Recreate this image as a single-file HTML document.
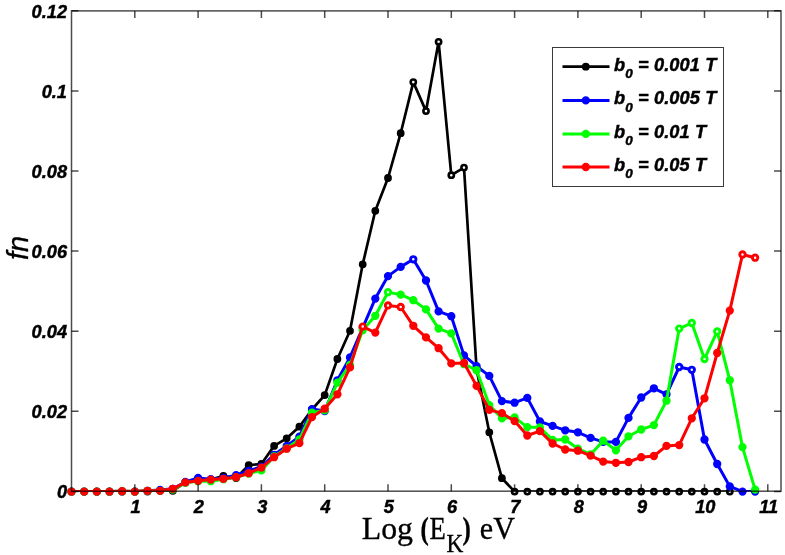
<!DOCTYPE html>
<html><head><meta charset="utf-8"><title>plot</title>
<style>
html,body{margin:0;padding:0;background:#fff;}
body{width:785px;height:555px;overflow:hidden;position:relative;}
text{fill:#000;}
.tk{font-family:"Liberation Sans",sans-serif;font-weight:bold;font-style:italic;font-size:18.2px;stroke:#000;stroke-width:0.45px;}
.lg{font-family:"Liberation Sans",sans-serif;font-weight:bold;font-style:italic;font-size:18.2px;letter-spacing:0.12px;stroke:#000;stroke-width:0.45px;}
.yl{font-family:"Liberation Sans",sans-serif;font-style:italic;font-size:29px;stroke:#000;stroke-width:0.3px;}
.xl{font-family:"Liberation Serif",serif;font-size:31px;stroke:#000;stroke-width:0.35px;}
</style></head><body>
<svg width="785" height="555" viewBox="0 0 785 555" style="position:absolute;left:0;top:0">
<rect width="785" height="555" fill="#fff"/>
<clipPath id="c"><rect x="71.5" y="10.9" width="709.5" height="480.7"/></clipPath>
<g stroke="#000" fill="none">
<polyline points="71.5,491.6 84.2,491.6 96.8,491.6 109.5,491.6 122.1,491.6 134.8,491.6 147.5,491.6 160.1,490.4 172.8,490.8 185.4,482.4 198.1,479.2 210.8,479.6 223.4,476.0 236.1,478.0 248.7,465.2 261.4,464.0 274.1,445.9 286.7,438.3 299.4,426.7 312.0,409.5 324.7,395.1 337.4,359.0 350.0,330.8 362.7,264.3 375.3,210.8 388.0,178.0 400.7,133.2 413.3,82.1 426.0,111.1 438.6,41.8 451.3,175.2 464.0,167.6 476.6,369.4 489.3,432.3 501.9,478.2 514.6,491.6 527.3,491.6 539.9,491.6 552.6,491.6 565.2,491.6 577.9,491.6 590.6,491.6 603.2,491.6 615.9,491.6 628.5,491.6 641.2,491.6 653.9,491.6 666.5,491.6 679.2,491.6 691.8,491.6 704.5,491.6 717.2,491.6 729.8,491.6" stroke-width="2.7" stroke-linejoin="round" clip-path="url(#c)"/>
<g stroke-width="2.6">
<circle cx="71.5" cy="491.6" r="2.6"/>
<circle cx="84.2" cy="491.6" r="2.6"/>
<circle cx="96.8" cy="491.6" r="2.6"/>
<circle cx="109.5" cy="491.6" r="2.6"/>
<circle cx="122.1" cy="491.6" r="2.6"/>
<circle cx="134.8" cy="491.6" r="2.6"/>
<circle cx="147.5" cy="491.6" r="2.6"/>
<circle cx="160.1" cy="490.4" r="2.6"/>
<circle cx="172.8" cy="490.8" r="2.6"/>
<circle cx="185.4" cy="482.4" r="2.6" fill="#000"/>
<circle cx="198.1" cy="479.2" r="2.6" fill="#000"/>
<circle cx="210.8" cy="479.6" r="2.6" fill="#000"/>
<circle cx="223.4" cy="476.0" r="2.6" fill="#000"/>
<circle cx="236.1" cy="478.0" r="2.6" fill="#000"/>
<circle cx="248.7" cy="465.2" r="2.6" fill="#000"/>
<circle cx="261.4" cy="464.0" r="2.6" fill="#000"/>
<circle cx="274.1" cy="445.9" r="2.6" fill="#000"/>
<circle cx="286.7" cy="438.3" r="2.6" fill="#000"/>
<circle cx="299.4" cy="426.7" r="2.6" fill="#000"/>
<circle cx="312.0" cy="409.5" r="2.6" fill="#000"/>
<circle cx="324.7" cy="395.1" r="2.6" fill="#000"/>
<circle cx="337.4" cy="359.0" r="2.6" fill="#000"/>
<circle cx="350.0" cy="330.8" r="2.6" fill="#000"/>
<circle cx="362.7" cy="264.3" r="2.6" fill="#000"/>
<circle cx="375.3" cy="210.8" r="2.6" fill="#000"/>
<circle cx="388.0" cy="178.0" r="2.6" fill="#000"/>
<circle cx="400.7" cy="133.2" r="2.6" fill="#000"/>
<circle cx="413.3" cy="82.1" r="2.6" fill="#fff"/>
<circle cx="426.0" cy="111.1" r="2.6" fill="#fff"/>
<circle cx="438.6" cy="41.8" r="2.6" fill="#fff"/>
<circle cx="451.3" cy="175.2" r="2.6" fill="#fff"/>
<circle cx="464.0" cy="167.6" r="2.6" fill="#fff"/>
<circle cx="476.6" cy="369.4" r="2.6" fill="#000"/>
<circle cx="489.3" cy="432.3" r="2.6" fill="#000"/>
<circle cx="501.9" cy="478.2" r="2.6" fill="#000"/>
<circle cx="514.6" cy="491.6" r="2.6"/>
<circle cx="527.3" cy="491.6" r="2.6"/>
<circle cx="539.9" cy="491.6" r="2.6"/>
<circle cx="552.6" cy="491.6" r="2.6"/>
<circle cx="565.2" cy="491.6" r="2.6"/>
<circle cx="577.9" cy="491.6" r="2.6"/>
<circle cx="590.6" cy="491.6" r="2.6"/>
<circle cx="603.2" cy="491.6" r="2.6"/>
<circle cx="615.9" cy="491.6" r="2.6"/>
<circle cx="628.5" cy="491.6" r="2.6"/>
<circle cx="641.2" cy="491.6" r="2.6"/>
<circle cx="653.9" cy="491.6" r="2.6"/>
<circle cx="666.5" cy="491.6" r="2.6"/>
<circle cx="679.2" cy="491.6" r="2.6"/>
<circle cx="691.8" cy="491.6" r="2.6"/>
<circle cx="704.5" cy="491.6" r="2.6"/>
<circle cx="717.2" cy="491.6" r="2.6"/>
<circle cx="729.8" cy="491.6" r="2.6"/>
</g></g>
<g stroke="#0000ff" fill="none">
<polyline points="71.5,491.6 84.2,491.6 96.8,491.6 109.5,491.6 122.1,491.2 134.8,491.6 147.5,490.8 160.1,490.0 172.8,488.8 185.4,482.0 198.1,478.0 210.8,479.2 223.4,478.0 236.1,475.2 248.7,470.8 261.4,466.8 274.1,454.8 286.7,445.9 299.4,436.7 312.0,409.1 324.7,411.1 337.4,380.3 350.0,357.4 362.7,327.8 375.3,298.6 388.0,276.1 400.7,266.9 413.3,259.3 426.0,280.5 438.6,311.4 451.3,316.2 464.0,355.4 476.6,366.2 489.3,375.9 501.9,401.1 514.6,402.7 527.3,397.9 539.9,421.5 552.6,425.9 565.2,430.3 577.9,432.3 590.6,437.9 603.2,441.9 615.9,441.9 628.5,417.9 641.2,397.5 653.9,388.3 666.5,394.3 679.2,367.0 691.8,369.8 704.5,439.5 717.2,464.0 729.8,486.4 742.5,491.6 755.1,491.6" stroke-width="3.0" stroke-linejoin="round" clip-path="url(#c)"/>
<g stroke-width="2.9">
<circle cx="71.5" cy="491.6" r="2.7" fill="#0000ff"/>
<circle cx="84.2" cy="491.6" r="2.7" fill="#0000ff"/>
<circle cx="96.8" cy="491.6" r="2.7" fill="#0000ff"/>
<circle cx="109.5" cy="491.6" r="2.7" fill="#0000ff"/>
<circle cx="122.1" cy="491.2" r="2.7" fill="#0000ff"/>
<circle cx="134.8" cy="491.6" r="2.7" fill="#0000ff"/>
<circle cx="147.5" cy="490.8" r="2.7" fill="#0000ff"/>
<circle cx="160.1" cy="490.0" r="2.7" fill="#0000ff"/>
<circle cx="172.8" cy="488.8" r="2.7" fill="#0000ff"/>
<circle cx="185.4" cy="482.0" r="2.7" fill="#0000ff"/>
<circle cx="198.1" cy="478.0" r="2.7" fill="#0000ff"/>
<circle cx="210.8" cy="479.2" r="2.7" fill="#0000ff"/>
<circle cx="223.4" cy="478.0" r="2.7" fill="#0000ff"/>
<circle cx="236.1" cy="475.2" r="2.7" fill="#0000ff"/>
<circle cx="248.7" cy="470.8" r="2.7" fill="#0000ff"/>
<circle cx="261.4" cy="466.8" r="2.7" fill="#0000ff"/>
<circle cx="274.1" cy="454.8" r="2.7" fill="#0000ff"/>
<circle cx="286.7" cy="445.9" r="2.7" fill="#0000ff"/>
<circle cx="299.4" cy="436.7" r="2.7" fill="#0000ff"/>
<circle cx="312.0" cy="409.1" r="2.7" fill="#0000ff"/>
<circle cx="324.7" cy="411.1" r="2.7" fill="#0000ff"/>
<circle cx="337.4" cy="380.3" r="2.7" fill="#0000ff"/>
<circle cx="350.0" cy="357.4" r="2.7" fill="#0000ff"/>
<circle cx="362.7" cy="327.8" r="2.7" fill="#0000ff"/>
<circle cx="375.3" cy="298.6" r="2.7" fill="#0000ff"/>
<circle cx="388.0" cy="276.1" r="2.7" fill="#0000ff"/>
<circle cx="400.7" cy="266.9" r="2.7" fill="#0000ff"/>
<circle cx="413.3" cy="259.3" r="2.7" fill="#fff"/>
<circle cx="426.0" cy="280.5" r="2.7" fill="#0000ff"/>
<circle cx="438.6" cy="311.4" r="2.7" fill="#0000ff"/>
<circle cx="451.3" cy="316.2" r="2.7" fill="#0000ff"/>
<circle cx="464.0" cy="355.4" r="2.7" fill="#0000ff"/>
<circle cx="476.6" cy="366.2" r="2.7" fill="#0000ff"/>
<circle cx="489.3" cy="375.9" r="2.7" fill="#0000ff"/>
<circle cx="501.9" cy="401.1" r="2.7" fill="#0000ff"/>
<circle cx="514.6" cy="402.7" r="2.7" fill="#0000ff"/>
<circle cx="527.3" cy="397.9" r="2.7" fill="#0000ff"/>
<circle cx="539.9" cy="421.5" r="2.7" fill="#0000ff"/>
<circle cx="552.6" cy="425.9" r="2.7" fill="#0000ff"/>
<circle cx="565.2" cy="430.3" r="2.7" fill="#0000ff"/>
<circle cx="577.9" cy="432.3" r="2.7" fill="#0000ff"/>
<circle cx="590.6" cy="437.9" r="2.7" fill="#0000ff"/>
<circle cx="603.2" cy="441.9" r="2.7" fill="#0000ff"/>
<circle cx="615.9" cy="441.9" r="2.7" fill="#0000ff"/>
<circle cx="628.5" cy="417.9" r="2.7" fill="#0000ff"/>
<circle cx="641.2" cy="397.5" r="2.7" fill="#0000ff"/>
<circle cx="653.9" cy="388.3" r="2.7" fill="#0000ff"/>
<circle cx="666.5" cy="394.3" r="2.7" fill="#0000ff"/>
<circle cx="679.2" cy="367.0" r="2.7" fill="#fff"/>
<circle cx="691.8" cy="369.8" r="2.7" fill="#fff"/>
<circle cx="704.5" cy="439.5" r="2.7" fill="#0000ff"/>
<circle cx="717.2" cy="464.0" r="2.7" fill="#0000ff"/>
<circle cx="729.8" cy="486.4" r="2.7" fill="#0000ff"/>
<circle cx="742.5" cy="491.6" r="2.7" fill="#0000ff"/>
<circle cx="755.1" cy="491.6" r="2.7" fill="#0000ff"/>
</g></g>
<g stroke="#00ff00" fill="none">
<polyline points="71.5,491.6 84.2,491.6 96.8,491.6 109.5,491.6 122.1,491.2 134.8,491.6 147.5,490.8 160.1,490.8 172.8,489.6 185.4,482.8 198.1,481.2 210.8,481.2 223.4,479.2 236.1,477.2 248.7,473.6 261.4,470.4 274.1,456.4 286.7,448.3 299.4,439.5 312.0,412.7 324.7,410.3 337.4,382.7 350.0,365.0 362.7,330.2 375.3,315.8 388.0,292.2 400.7,294.6 413.3,300.2 426.0,309.4 438.6,328.6 451.3,333.4 464.0,364.2 476.6,370.2 489.3,405.1 501.9,418.3 514.6,417.5 527.3,427.1 539.9,427.5 552.6,439.9 565.2,439.5 577.9,448.7 590.6,454.4 603.2,440.7 615.9,450.3 628.5,436.3 641.2,429.5 653.9,425.1 666.5,400.7 679.2,328.6 691.8,323.0 704.5,359.0 717.2,331.4 729.8,380.3 742.5,447.1 755.1,489.6" stroke-width="3.0" stroke-linejoin="round" clip-path="url(#c)"/>
<g stroke-width="2.9">
<circle cx="71.5" cy="491.6" r="2.7" fill="#00ff00"/>
<circle cx="84.2" cy="491.6" r="2.7" fill="#00ff00"/>
<circle cx="96.8" cy="491.6" r="2.7" fill="#00ff00"/>
<circle cx="109.5" cy="491.6" r="2.7" fill="#00ff00"/>
<circle cx="122.1" cy="491.2" r="2.7" fill="#00ff00"/>
<circle cx="134.8" cy="491.6" r="2.7" fill="#00ff00"/>
<circle cx="147.5" cy="490.8" r="2.7" fill="#00ff00"/>
<circle cx="160.1" cy="490.8" r="2.7" fill="#00ff00"/>
<circle cx="172.8" cy="489.6" r="2.7" fill="#00ff00"/>
<circle cx="185.4" cy="482.8" r="2.7" fill="#00ff00"/>
<circle cx="198.1" cy="481.2" r="2.7" fill="#00ff00"/>
<circle cx="210.8" cy="481.2" r="2.7" fill="#00ff00"/>
<circle cx="223.4" cy="479.2" r="2.7" fill="#00ff00"/>
<circle cx="236.1" cy="477.2" r="2.7" fill="#00ff00"/>
<circle cx="248.7" cy="473.6" r="2.7" fill="#00ff00"/>
<circle cx="261.4" cy="470.4" r="2.7" fill="#00ff00"/>
<circle cx="274.1" cy="456.4" r="2.7" fill="#00ff00"/>
<circle cx="286.7" cy="448.3" r="2.7" fill="#00ff00"/>
<circle cx="299.4" cy="439.5" r="2.7" fill="#00ff00"/>
<circle cx="312.0" cy="412.7" r="2.7" fill="#00ff00"/>
<circle cx="324.7" cy="410.3" r="2.7" fill="#00ff00"/>
<circle cx="337.4" cy="382.7" r="2.7" fill="#00ff00"/>
<circle cx="350.0" cy="365.0" r="2.7" fill="#00ff00"/>
<circle cx="362.7" cy="330.2" r="2.7" fill="#00ff00"/>
<circle cx="375.3" cy="315.8" r="2.7" fill="#00ff00"/>
<circle cx="388.0" cy="292.2" r="2.7" fill="#fff"/>
<circle cx="400.7" cy="294.6" r="2.7" fill="#00ff00"/>
<circle cx="413.3" cy="300.2" r="2.7" fill="#00ff00"/>
<circle cx="426.0" cy="309.4" r="2.7" fill="#00ff00"/>
<circle cx="438.6" cy="328.6" r="2.7" fill="#00ff00"/>
<circle cx="451.3" cy="333.4" r="2.7" fill="#00ff00"/>
<circle cx="464.0" cy="364.2" r="2.7" fill="#00ff00"/>
<circle cx="476.6" cy="370.2" r="2.7" fill="#00ff00"/>
<circle cx="489.3" cy="405.1" r="2.7" fill="#00ff00"/>
<circle cx="501.9" cy="418.3" r="2.7" fill="#00ff00"/>
<circle cx="514.6" cy="417.5" r="2.7" fill="#00ff00"/>
<circle cx="527.3" cy="427.1" r="2.7" fill="#00ff00"/>
<circle cx="539.9" cy="427.5" r="2.7" fill="#00ff00"/>
<circle cx="552.6" cy="439.9" r="2.7" fill="#00ff00"/>
<circle cx="565.2" cy="439.5" r="2.7" fill="#00ff00"/>
<circle cx="577.9" cy="448.7" r="2.7" fill="#00ff00"/>
<circle cx="590.6" cy="454.4" r="2.7" fill="#00ff00"/>
<circle cx="603.2" cy="440.7" r="2.7" fill="#00ff00"/>
<circle cx="615.9" cy="450.3" r="2.7" fill="#00ff00"/>
<circle cx="628.5" cy="436.3" r="2.7" fill="#00ff00"/>
<circle cx="641.2" cy="429.5" r="2.7" fill="#00ff00"/>
<circle cx="653.9" cy="425.1" r="2.7" fill="#00ff00"/>
<circle cx="666.5" cy="400.7" r="2.7" fill="#00ff00"/>
<circle cx="679.2" cy="328.6" r="2.7" fill="#fff"/>
<circle cx="691.8" cy="323.0" r="2.7" fill="#fff"/>
<circle cx="704.5" cy="359.0" r="2.7" fill="#fff"/>
<circle cx="717.2" cy="331.4" r="2.7" fill="#fff"/>
<circle cx="729.8" cy="380.3" r="2.7" fill="#00ff00"/>
<circle cx="742.5" cy="447.1" r="2.7" fill="#00ff00"/>
<circle cx="755.1" cy="489.6" r="2.7" fill="#00ff00"/>
</g></g>
<g stroke="#ff0000" fill="none">
<polyline points="71.5,491.6 84.2,491.6 96.8,491.6 109.5,491.6 122.1,491.2 134.8,491.6 147.5,490.8 160.1,490.8 172.8,488.8 185.4,482.4 198.1,480.8 210.8,479.6 223.4,478.8 236.1,477.2 248.7,473.2 261.4,467.6 274.1,457.2 286.7,448.7 299.4,443.1 312.0,417.1 324.7,408.7 337.4,394.3 350.0,367.4 362.7,326.6 375.3,332.6 388.0,305.4 400.7,307.0 413.3,325.8 426.0,337.4 438.6,348.2 451.3,363.4 464.0,363.0 476.6,385.9 489.3,409.9 501.9,413.1 514.6,421.1 527.3,435.5 539.9,431.1 552.6,443.5 565.2,449.5 577.9,450.7 590.6,455.6 603.2,461.6 615.9,462.8 628.5,462.0 641.2,457.2 653.9,456.0 666.5,445.9 679.2,445.1 691.8,418.3 704.5,398.3 717.2,353.0 729.8,310.6 742.5,254.5 755.1,257.7" stroke-width="3.0" stroke-linejoin="round" clip-path="url(#c)"/>
<g stroke-width="2.9">
<circle cx="71.5" cy="491.6" r="2.7" fill="#ff0000"/>
<circle cx="84.2" cy="491.6" r="2.7" fill="#ff0000"/>
<circle cx="96.8" cy="491.6" r="2.7" fill="#ff0000"/>
<circle cx="109.5" cy="491.6" r="2.7" fill="#ff0000"/>
<circle cx="122.1" cy="491.2" r="2.7" fill="#ff0000"/>
<circle cx="134.8" cy="491.6" r="2.7" fill="#ff0000"/>
<circle cx="147.5" cy="490.8" r="2.7" fill="#ff0000"/>
<circle cx="160.1" cy="490.8" r="2.7" fill="#ff0000"/>
<circle cx="172.8" cy="488.8" r="2.7" fill="#ff0000"/>
<circle cx="185.4" cy="482.4" r="2.7" fill="#ff0000"/>
<circle cx="198.1" cy="480.8" r="2.7" fill="#ff0000"/>
<circle cx="210.8" cy="479.6" r="2.7" fill="#ff0000"/>
<circle cx="223.4" cy="478.8" r="2.7" fill="#ff0000"/>
<circle cx="236.1" cy="477.2" r="2.7" fill="#ff0000"/>
<circle cx="248.7" cy="473.2" r="2.7" fill="#ff0000"/>
<circle cx="261.4" cy="467.6" r="2.7" fill="#ff0000"/>
<circle cx="274.1" cy="457.2" r="2.7" fill="#ff0000"/>
<circle cx="286.7" cy="448.7" r="2.7" fill="#ff0000"/>
<circle cx="299.4" cy="443.1" r="2.7" fill="#ff0000"/>
<circle cx="312.0" cy="417.1" r="2.7" fill="#ff0000"/>
<circle cx="324.7" cy="408.7" r="2.7" fill="#ff0000"/>
<circle cx="337.4" cy="394.3" r="2.7" fill="#ff0000"/>
<circle cx="350.0" cy="367.4" r="2.7" fill="#ff0000"/>
<circle cx="362.7" cy="326.6" r="2.7" fill="#fff"/>
<circle cx="375.3" cy="332.6" r="2.7" fill="#ff0000"/>
<circle cx="388.0" cy="305.4" r="2.7" fill="#fff"/>
<circle cx="400.7" cy="307.0" r="2.7" fill="#fff"/>
<circle cx="413.3" cy="325.8" r="2.7" fill="#ff0000"/>
<circle cx="426.0" cy="337.4" r="2.7" fill="#ff0000"/>
<circle cx="438.6" cy="348.2" r="2.7" fill="#ff0000"/>
<circle cx="451.3" cy="363.4" r="2.7" fill="#ff0000"/>
<circle cx="464.0" cy="363.0" r="2.7" fill="#ff0000"/>
<circle cx="476.6" cy="385.9" r="2.7" fill="#ff0000"/>
<circle cx="489.3" cy="409.9" r="2.7" fill="#ff0000"/>
<circle cx="501.9" cy="413.1" r="2.7" fill="#ff0000"/>
<circle cx="514.6" cy="421.1" r="2.7" fill="#ff0000"/>
<circle cx="527.3" cy="435.5" r="2.7" fill="#ff0000"/>
<circle cx="539.9" cy="431.1" r="2.7" fill="#ff0000"/>
<circle cx="552.6" cy="443.5" r="2.7" fill="#ff0000"/>
<circle cx="565.2" cy="449.5" r="2.7" fill="#ff0000"/>
<circle cx="577.9" cy="450.7" r="2.7" fill="#ff0000"/>
<circle cx="590.6" cy="455.6" r="2.7" fill="#ff0000"/>
<circle cx="603.2" cy="461.6" r="2.7" fill="#ff0000"/>
<circle cx="615.9" cy="462.8" r="2.7" fill="#ff0000"/>
<circle cx="628.5" cy="462.0" r="2.7" fill="#ff0000"/>
<circle cx="641.2" cy="457.2" r="2.7" fill="#ff0000"/>
<circle cx="653.9" cy="456.0" r="2.7" fill="#ff0000"/>
<circle cx="666.5" cy="445.9" r="2.7" fill="#ff0000"/>
<circle cx="679.2" cy="445.1" r="2.7" fill="#ff0000"/>
<circle cx="691.8" cy="418.3" r="2.7" fill="#ff0000"/>
<circle cx="704.5" cy="398.3" r="2.7" fill="#ff0000"/>
<circle cx="717.2" cy="353.0" r="2.7" fill="#ff0000"/>
<circle cx="729.8" cy="310.6" r="2.7" fill="#ff0000"/>
<circle cx="742.5" cy="254.5" r="2.7" fill="#fff"/>
<circle cx="755.1" cy="257.7" r="2.7" fill="#fff"/>
</g></g>
<rect x="71.5" y="10.9" width="709.5" height="480.3" fill="none" stroke="#000" stroke-opacity="0.7" stroke-width="1.5"/>
<path d="M134.8 491.2v-7M134.8 10.9v7M198.1 491.2v-7M198.1 10.9v7M261.4 491.2v-7M261.4 10.9v7M324.7 491.2v-7M324.7 10.9v7M388.0 491.2v-7M388.0 10.9v7M451.3 491.2v-7M451.3 10.9v7M514.6 491.2v-7M514.6 10.9v7M577.9 491.2v-7M577.9 10.9v7M641.2 491.2v-7M641.2 10.9v7M704.5 491.2v-7M704.5 10.9v7M767.8 491.2v-7M767.8 10.9v7M71.5 491.4h7M781.0 491.4h-7M71.5 411.3h7M781.0 411.3h-7M71.5 331.2h7M781.0 331.2h-7M71.5 251.1h7M781.0 251.1h-7M71.5 171.0h7M781.0 171.0h-7M71.5 90.9h7M781.0 90.9h-7M71.5 10.8h7M781.0 10.8h-7" stroke="#000" stroke-opacity="0.7" stroke-width="1.5" fill="none"/>
<rect x="552.5" y="47.5" width="171.0" height="139.0" fill="#fff" stroke="#3a3a3a" stroke-width="1"/>
<path d="M562.5 66.7H609.5" stroke="#000" stroke-width="2.7"/>
<circle cx="585.8" cy="66.7" r="2.6" stroke="#000" stroke-width="2.6" fill="#000"/>
<text x="614" y="70.5" class="lg">b<tspan dy="7.6" style="font-size:13.5px">0</tspan><tspan dy="-7.6"> = 0.001 T</tspan></text>
<path d="M562.5 100.4H609.5" stroke="#0000ff" stroke-width="3.0"/>
<circle cx="585.8" cy="100.4" r="2.7" stroke="#0000ff" stroke-width="2.9" fill="#0000ff"/>
<text x="614" y="104.2" class="lg">b<tspan dy="7.6" style="font-size:13.5px">0</tspan><tspan dy="-7.6"> = 0.005 T</tspan></text>
<path d="M562.5 133.9H609.5" stroke="#00ff00" stroke-width="3.0"/>
<circle cx="585.8" cy="133.9" r="2.7" stroke="#00ff00" stroke-width="2.9" fill="#00ff00"/>
<text x="614" y="137.7" class="lg">b<tspan dy="7.6" style="font-size:13.5px">0</tspan><tspan dy="-7.6"> = 0.01 T</tspan></text>
<path d="M562.5 167.0H609.5" stroke="#ff0000" stroke-width="3.0"/>
<circle cx="585.8" cy="167.0" r="2.7" stroke="#ff0000" stroke-width="2.9" fill="#ff0000"/>
<text x="614" y="170.8" class="lg">b<tspan dy="7.6" style="font-size:13.5px">0</tspan><tspan dy="-7.6"> = 0.05 T</tspan></text>
<text x="135.6" y="513.3" class="tk" text-anchor="middle">1</text>
<text x="198.9" y="513.3" class="tk" text-anchor="middle">2</text>
<text x="262.2" y="513.3" class="tk" text-anchor="middle">3</text>
<text x="325.5" y="513.3" class="tk" text-anchor="middle">4</text>
<text x="388.8" y="513.3" class="tk" text-anchor="middle">5</text>
<text x="452.1" y="513.3" class="tk" text-anchor="middle">6</text>
<text x="515.4" y="513.3" class="tk" text-anchor="middle">7</text>
<text x="578.7" y="513.3" class="tk" text-anchor="middle">8</text>
<text x="642.0" y="513.3" class="tk" text-anchor="middle">9</text>
<text x="705.3" y="513.3" class="tk" text-anchor="middle">10</text>
<text x="768.6" y="513.3" class="tk" text-anchor="middle">11</text>
<text x="67" y="498.4" class="tk" text-anchor="end">0</text>
<text x="67" y="418.3" class="tk" text-anchor="end">0.02</text>
<text x="67" y="338.2" class="tk" text-anchor="end">0.04</text>
<text x="67" y="258.1" class="tk" text-anchor="end">0.06</text>
<text x="67" y="178.0" class="tk" text-anchor="end">0.08</text>
<text x="67" y="97.9" class="tk" text-anchor="end">0.1</text>
<text x="67" y="17.8" class="tk" text-anchor="end">0.12</text>
<text transform="translate(27.5,260) rotate(-90)" class="yl">fn</text>
<text x="361.8" y="538.8" class="xl" style="font-size:31.8px">Log</text>
<text transform="translate(420.6,538.8) scale(0.8,1)" class="xl" style="font-weight:bold">(</text>
<text transform="translate(429.4,538.8) scale(0.86,1)" class="xl">E</text>
<text transform="translate(446.4,551.8) scale(0.95,1)" class="xl" style="font-size:24.5px">K</text>
<text transform="translate(462.6,538.8) scale(0.8,1)" class="xl" style="font-weight:bold">)</text>
<text transform="translate(479.8,538.8) scale(0.97,1)" class="xl">eV</text>
</svg>
</body></html>
